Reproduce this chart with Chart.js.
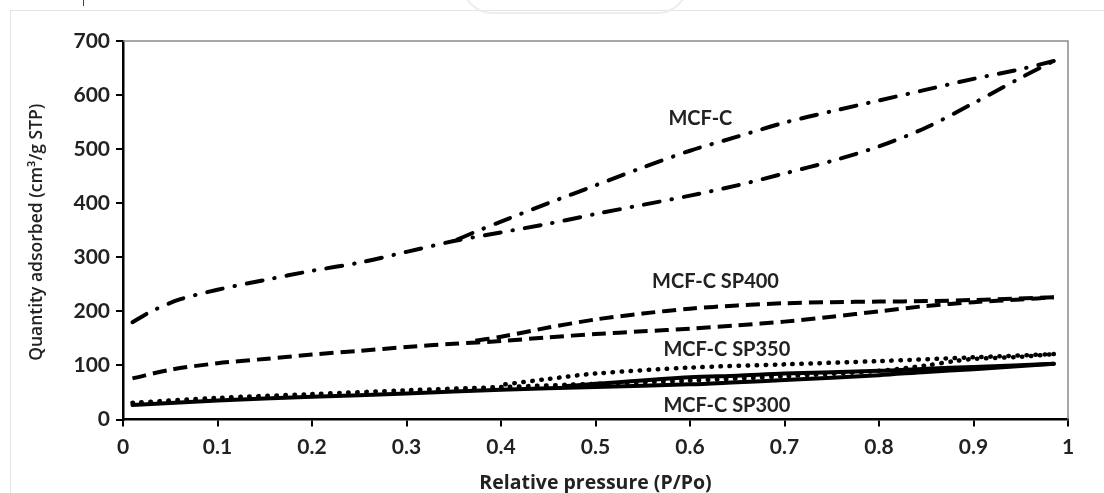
<!DOCTYPE html>
<html>
<head>
<meta charset="utf-8">
<script src="https://cdn.jsdelivr.net/npm/chart.js@4.4.1/dist/chart.umd.min.js"></script>
<style>
  body { margin: 0; background: #fff; }
  #frame { position: absolute; left: 10px; top: 10px; width: 1200px; height: 600px; border: 1px solid #e4e4e4; }
  #mark { position: absolute; left: 462px; top: -30px; width: 222px; height: 40px; border: 2px solid #ededed; border-radius: 0 0 30px 30px; }
  #tick { position: absolute; left: 83px; top: 0; width: 1px; height: 6px; background: #444; }
  #wrap { position: absolute; left: 0; top: 0; width: 1104px; height: 493px; }
</style>
</head>
<body>
<div id="frame"></div>
<div id="mark"></div>
<div id="tick"></div>
<div id="wrap"><canvas id="c"></canvas></div>
<script>
// relative pressure (P/Po) and quantity adsorbed (cm3/g STP)
const mcfcAdsP = [0.01, 0.03, 0.06, 0.1, 0.15, 0.2, 0.25, 0.3, 0.35, 0.4, 0.45, 0.5, 0.55, 0.6, 0.65, 0.7, 0.75, 0.8, 0.85, 0.9, 0.95, 0.985];
const mcfcAdsQ = [180, 200, 222, 240, 258, 275, 290, 310, 330, 346, 362, 380, 397, 414, 433, 455, 478, 505, 540, 585, 632, 663];
const mcfcDesP = [0.985, 0.95, 0.9, 0.85, 0.8, 0.75, 0.7, 0.65, 0.6, 0.55, 0.5, 0.45, 0.4, 0.37, 0.35];
const mcfcDesQ = [663, 648, 630, 610, 590, 570, 549, 523, 497, 466, 433, 400, 366, 345, 330];

const sp400AdsP = [0.01, 0.05, 0.1, 0.15, 0.2, 0.25, 0.3, 0.35, 0.4, 0.45, 0.5, 0.55, 0.6, 0.65, 0.7, 0.75, 0.8, 0.85, 0.9, 0.95, 0.985];
const sp400AdsQ = [76, 92, 104, 112, 120, 127, 134, 140, 145, 152, 158, 163, 168, 174, 181, 190, 200, 210, 217, 222, 226];
const sp400DesP = [0.985, 0.9, 0.85, 0.8, 0.75, 0.7, 0.65, 0.6, 0.55, 0.5, 0.45, 0.4, 0.37];
const sp400DesQ = [226, 221, 219, 218, 217, 215, 211, 205, 196, 185, 170, 153, 145];

const sp350AdsP = [0.01, 0.1, 0.2, 0.3, 0.4, 0.5, 0.6, 0.7, 0.8, 0.85, 0.88, 0.9, 0.95, 0.985];
const sp350AdsQ = [31, 40, 47, 54, 60, 66, 72, 80, 90, 100, 108, 112, 116, 121];
const sp350DesP = [0.985, 0.9, 0.8, 0.7, 0.6, 0.5, 0.45, 0.4];
const sp350DesQ = [121, 115, 108, 102, 96, 85, 75, 64];

const sp300AdsP = [0.01, 0.1, 0.2, 0.3, 0.4, 0.5, 0.6, 0.65, 0.7, 0.8, 0.85, 0.9, 0.985];
const sp300AdsQ = [27, 35, 42, 48, 55, 60, 65, 69, 73, 82, 88, 93, 103];
const sp300DesP = [0.985, 0.9, 0.85, 0.8, 0.7, 0.65, 0.6, 0.5, 0.47];
const sp300DesQ = [103, 97, 94, 90, 85, 81, 78, 66, 62];

const xTickLabels = ['0', '0.1', '0.2', '0.3', '0.4', '0.5', '0.6', '0.7', '0.8', '0.9', '1'];
const yTickLabels = ['0', '100', '200', '300', '400', '500', '600', '700'];
const xTitle = 'Relative pressure (P/Po)';
const yTitle = 'Quantity adsorbed (cm³/g STP)';

const curveNames = ['MCF-C', 'MCF-C SP400', 'MCF-C SP350', 'MCF-C SP300'];
const nameX = [0.611, 0.627, 0.639, 0.639];
const nameY = [557, 255, 130, 25];

const pts = (xs, ys) => xs.map((x, i) => ({ x: x, y: ys[i] }));

const styles = [
  { borderWidth: 4, borderDash: [16, 12, 0.5, 12], borderCapStyle: 'round' },
  { borderWidth: 4, borderDash: [14, 7], borderCapStyle: 'butt' },
  { borderWidth: 4.5, borderDash: [0.5, 8.5], borderCapStyle: 'round' },
  { borderWidth: 4, borderDash: [], borderCapStyle: 'round' }
];

const branches = [
  [mcfcAdsP, mcfcAdsQ, 0], [mcfcDesP, mcfcDesQ, 0],
  [sp400AdsP, sp400AdsQ, 1], [sp400DesP, sp400DesQ, 1],
  [sp350AdsP, sp350AdsQ, 2], [sp350DesP, sp350DesQ, 2],
  [sp300AdsP, sp300AdsQ, 3], [sp300DesP, sp300DesQ, 3]
];

const datasets = branches.map(b => Object.assign({
  label: curveNames[b[2]],
  data: pts(b[0], b[1]),
  showLine: true,
  borderColor: '#000',
  pointRadius: 0,
  borderJoinStyle: 'round',
  tension: 0.3
}, styles[b[2]]));

// top / right frame, axis titles and curve names
const extras = {
  id: 'extras',
  afterDraw(chart) {
    const ctx = chart.ctx, a = chart.chartArea;
    const xs = chart.scales.x, ys = chart.scales.y;
    ctx.save();
    ctx.strokeStyle = '#8a8a8a';
    ctx.lineWidth = 1.5;
    ctx.beginPath();
    ctx.moveTo(a.left, a.top);
    ctx.lineTo(a.right, a.top);
    ctx.lineTo(a.right, a.bottom);
    ctx.stroke();
    ctx.fillStyle = '#222';
    ctx.textAlign = 'center';
    ctx.textBaseline = 'middle';
    ctx.font = 'bold 20px Lato';
    curveNames.forEach((n, i) => ctx.fillText(n, xs.getPixelForValue(nameX[i]), ys.getPixelForValue(nameY[i])));
    ctx.font = 'bold 19.5px "Open Sans"';
    ctx.fillText(xTitle, (a.left + a.right) / 2, a.bottom + 64);
    ctx.translate(37, (a.top + a.bottom) / 2 + 2);
    ctx.rotate(-Math.PI / 2);
    ctx.font = '600 17.5px "Open Sans"';
    ctx.fillText(yTitle, 0, 0);
    ctx.restore();
  }
};

new Chart(document.getElementById('c'), {
  type: 'scatter',
  data: { datasets: datasets },
  plugins: [extras],
  options: {
    responsive: true,
    maintainAspectRatio: false,
    animation: false,
    layout: { padding: { top: 41, right: 36, left: 0, bottom: 0 } },
    plugins: { legend: { display: false }, tooltip: { enabled: false } },
    scales: {
      x: {
        type: 'linear', min: 0, max: 1,
        afterFit(s) { s.height = 73.5; },
        border: { color: '#000', width: 2.5 },
        grid: { drawOnChartArea: false, drawTicks: true, tickLength: 7, color: '#000', lineWidth: 2 },
        ticks: {
          stepSize: 0.1, color: '#222', padding: 8,
          font: { family: 'Lato', weight: 'bold', size: 21 },
          callback: (v, i) => xTickLabels[i]
        }
      },
      y: {
        min: 0, max: 700,
        afterFit(s) { s.width = 123; },
        border: { color: '#000', width: 2.5 },
        grid: { drawOnChartArea: false, drawTicks: true, tickLength: 7, color: '#000', lineWidth: 2 },
        ticks: {
          stepSize: 100, color: '#222', padding: 6,
          font: { family: 'Lato', weight: 'bold', size: 21 },
          callback: (v, i) => yTickLabels[i]
        }
      }
    }
  }
});
</script>
</body>
</html>
